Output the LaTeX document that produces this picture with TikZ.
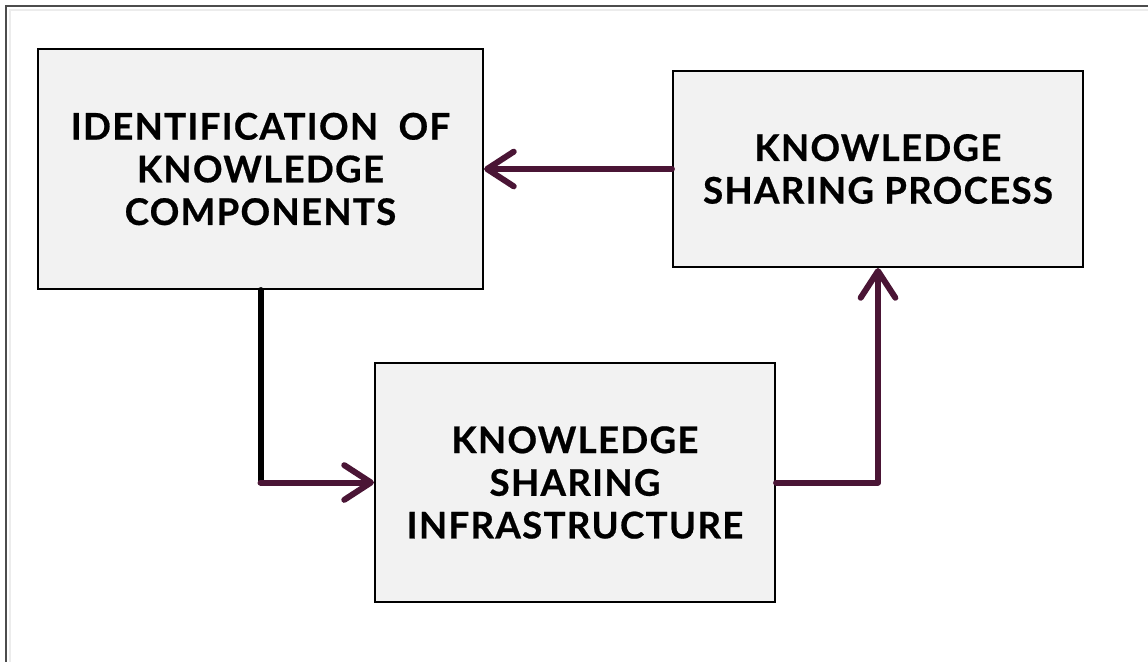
\documentclass[tikz,border=0pt]{standalone}
\usepackage{fontspec}
\setmainfont{Lato}
\usetikzlibrary{arrows.meta}
\definecolor{plum}{HTML}{4A1535}
\definecolor{boxgray}{HTML}{F2F2F2}
\tikzset{
  block/.style={draw=black, line width=1.6pt, fill=boxgray, align=center,
    font=\fontsize{27.5}{32}\selectfont\bfseries\addfontfeature{LetterSpace=3.5,FakeBold=0.6}},
  flow/.style={draw=plum, line width=4.5pt, line cap=round, line join=round,
    -{Straight Barb[length=20pt, width=26pt, line cap=round, line join=round]}}
}
\begin{document}
\begin{tikzpicture}[x=0.75pt, y=-0.75pt]
  \useasboundingbox (0,0) rectangle (1148,661);
  \draw[gray!60!black, line width=1pt] (6,670) -- (6,6) -- (1160,6);
  \draw[gray!15, line width=1pt] (10,670) -- (10,10) -- (1160,10);
  \node[block, minimum width=333.75pt, minimum height=180pt] (ident) at (260.5,169)
    {IDENTIFICATION\ \ OF\\KNOWLEDGE\\COMPONENTS};
  \node[block, minimum width=307.5pt, minimum height=147pt] (process) at (878,169)
    {KNOWLEDGE\\SHARING PROCESS};
  \node[block, minimum width=300pt, minimum height=179.25pt] (infra) at (575,482.5)
    {KNOWLEDGE\\SHARING\\INFRASTRUCTURE};
  \coordinate (bend) at (ident.south |- infra.west);
  \draw[line width=4.5pt, line cap=round] (ident.south) -- (bend);
  \draw[flow] (bend) -- (infra.west);
  \draw[flow] (infra.east) -| (process.south);
  \draw[flow] (process.west) -- (ident.east);
\end{tikzpicture}
\end{document}
